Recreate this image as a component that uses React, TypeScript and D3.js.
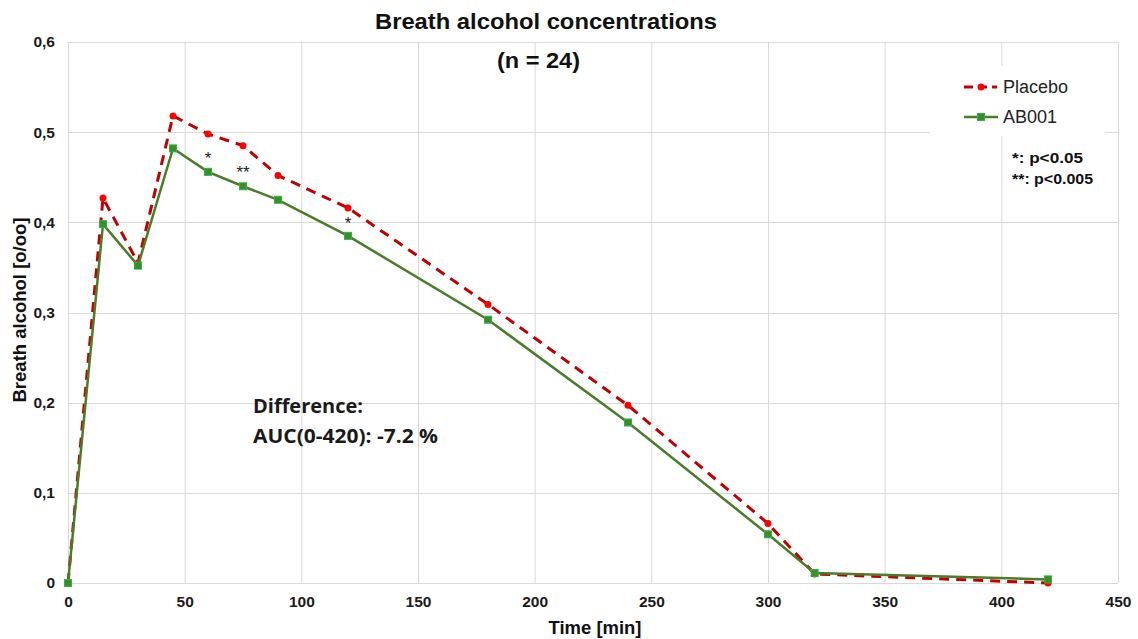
import React, { useEffect, useRef } from "react";
import * as d3 from "d3";

// time points in minutes
const times = [0, 15, 30, 45, 60, 75, 90, 120, 180, 240, 300, 320, 420];
const placebo = [0, 0.427, 0.355, 0.518, 0.498, 0.485, 0.452, 0.416, 0.309, 0.197, 0.066, 0.01, 0.0];
const ab001 = [0, 0.398, 0.352, 0.482, 0.456, 0.44, 0.425, 0.385, 0.292, 0.178, 0.054, 0.011, 0.004];

const xTicks = [0, 50, 100, 150, 200, 250, 300, 350, 400, 450];
const yTicks = [0, 0.1, 0.2, 0.3, 0.4, 0.5, 0.6];

// significance marks: time, value position, label
const stars = [
  { t: 60, v: 0.473, label: "*" },
  { t: 75, v: 0.457, label: "**" },
  { t: 120, v: 0.4, label: "*" },
];

const W = 1138;
const H = 639;
const margin = { top: 42, right: 20, bottom: 56, left: 68 };

const App = () => {
  const svgRef = useRef(null);

  useEffect(() => {
    if (!svgRef.current) return;
    const svg = d3.select(svgRef.current);
    svg.selectAll("*").remove();

    const x = d3.scaleLinear().domain([0, 450]).range([margin.left, W - margin.right]);
    const y = d3.scaleLinear().domain([0, 0.6]).range([H - margin.bottom, margin.top]);
    const font = "'Liberation Sans', Arial, sans-serif";

    // gridlines
    const grid = svg.append("g").attr("stroke", "#d9d9d9").attr("stroke-width", 1);
    xTicks.forEach((t) => {
      grid.append("line")
        .attr("x1", x(t) + 0.5).attr("x2", x(t) + 0.5)
        .attr("y1", y(0)).attr("y2", y(0.6));
    });
    yTicks.forEach((t) => {
      grid.append("line")
        .attr("x1", x(0)).attr("x2", x(450))
        .attr("y1", Math.round(y(t)) + 0.5).attr("y2", Math.round(y(t)) + 0.5);
    });

    // axes
    const xAxis = d3.axisBottom(x).tickValues(xTicks).tickSize(0).tickPadding(13)
      .tickFormat((d) => String(d));
    const gx = svg.append("g").attr("transform", `translate(0,${y(0)})`).call(xAxis);
    gx.select(".domain").remove();
    gx.selectAll("text").attr("font-family", font).attr("font-size", 15.5)
      .attr("font-weight", "bold").attr("fill", "#1a1a1a");

    const yAxis = d3.axisLeft(y).tickValues(yTicks).tickSize(0).tickPadding(13)
      .tickFormat((d) => (d === 0 ? "0" : d3.format(".1f")(d).replace(".", ",")));
    const gy = svg.append("g").attr("transform", `translate(${x(0)},0)`).call(yAxis);
    gy.select(".domain").remove();
    gy.selectAll("text").attr("font-family", font).attr("font-size", 15.5)
      .attr("font-weight", "bold").attr("fill", "#1a1a1a");

    // legend background covers grid
    svg.append("rect").attr("x", 930).attr("y", 66).attr("width", 175).attr("height", 70)
      .attr("fill", "#fff");

    // lines
    const line = d3.line().x((d) => x(d[0])).y((d) => y(d[1]));
    const redData = times.map((t, i) => [t, placebo[i]]);
    const greenData = times.map((t, i) => [t, ab001[i]]);

    svg.append("path").datum(redData).attr("d", line).attr("fill", "none")
      .attr("stroke", "#c00000").attr("stroke-width", 3).attr("stroke-dasharray", "10,7");
    svg.append("g").selectAll("circle").data(redData).enter().append("circle")
      .attr("cx", (d) => x(d[0])).attr("cy", (d) => y(d[1])).attr("r", 3.5)
      .attr("fill", "#ff0000");

    svg.append("path").datum(greenData).attr("d", line).attr("fill", "none")
      .attr("stroke", "#4a7d2a").attr("stroke-width", 2.5);
    svg.append("g").selectAll("rect").data(greenData).enter().append("rect")
      .attr("x", (d) => x(d[0]) - 3.5).attr("y", (d) => y(d[1]) - 3.5)
      .attr("width", 7).attr("height", 7)
      .attr("fill", "#3c8c2c").attr("stroke", "#2db34a").attr("stroke-width", 1);

    // stars
    svg.append("g").selectAll("text").data(stars).enter().append("text")
      .attr("x", (d) => x(d.t)).attr("y", (d) => y(d.v) + 7)
      .attr("text-anchor", "middle").attr("font-family", font).attr("font-size", 17)
      .attr("fill", "#222").text((d) => d.label);

    // legend
    const lg = svg.append("g");
    lg.append("line").attr("x1", 964).attr("x2", 997).attr("y1", 87).attr("y2", 87)
      .attr("stroke", "#c00000").attr("stroke-width", 3).attr("stroke-dasharray", "9,5");
    lg.append("circle").attr("cx", 981).attr("cy", 87).attr("r", 3.5).attr("fill", "#ff0000");
    lg.append("text").attr("x", 1003).attr("y", 93).attr("font-family", font)
      .attr("font-size", 18).attr("fill", "#222").text("Placebo");
    lg.append("line").attr("x1", 964).attr("x2", 998).attr("y1", 117).attr("y2", 117)
      .attr("stroke", "#4a7d2a").attr("stroke-width", 2.5);
    lg.append("rect").attr("x", 977.5).attr("y", 113.5).attr("width", 7).attr("height", 7)
      .attr("fill", "#3c8c2c").attr("stroke", "#2db34a");
    lg.append("text").attr("x", 1003).attr("y", 123).attr("font-family", font)
      .attr("font-size", 18).attr("fill", "#222").text("AB001");

    lg.append("text").attr("x", 1012).attr("y", 163).attr("font-family", font)
      .attr("font-size", 15).attr("font-weight", "bold").attr("fill", "#111")
      .attr("textLength", 71).attr("lengthAdjust", "spacingAndGlyphs")
      .text("*:  p<0.05");
    lg.append("text").attr("x", 1012).attr("y", 184).attr("font-family", font)
      .attr("font-size", 15).attr("font-weight", "bold").attr("fill", "#111")
      .attr("textLength", 81).attr("lengthAdjust", "spacingAndGlyphs")
      .text("**: p<0.005");

    // annotation
    svg.append("text").attr("x", 253).attr("y", 413).attr("font-family", "'Open Sans', sans-serif")
      .attr("font-size", 19).attr("font-weight", "bold").attr("fill", "#1a1a1a")
      .attr("textLength", 110).attr("lengthAdjust", "spacingAndGlyphs")
      .text("Difference:");
    svg.append("text").attr("x", 253).attr("y", 443).attr("font-family", "'Open Sans', sans-serif")
      .attr("font-size", 19).attr("font-weight", "bold").attr("fill", "#1a1a1a")
      .attr("textLength", 185).attr("lengthAdjust", "spacingAndGlyphs")
      .text("AUC(0-420): -7.2 %");

    // titles
    svg.append("text").attr("x", 375).attr("y", 29)
      .attr("font-family", font).attr("font-size", 22).attr("font-weight", "bold")
      .attr("fill", "#111").attr("textLength", 342).attr("lengthAdjust", "spacingAndGlyphs")
      .text("Breath alcohol concentrations");
    svg.append("text").attr("x", 497).attr("y", 68)
      .attr("font-family", font).attr("font-size", 22).attr("font-weight", "bold")
      .attr("fill", "#111").attr("textLength", 83).attr("lengthAdjust", "spacingAndGlyphs")
      .text("(n = 24)");

    svg.append("text").attr("x", 595).attr("y", 634).attr("text-anchor", "middle")
      .attr("font-family", font).attr("font-size", 18).attr("font-weight", "bold")
      .attr("fill", "#111").attr("textLength", 93).attr("lengthAdjust", "spacingAndGlyphs")
      .text("Time [min]");
    svg.append("text").attr("transform", `translate(26,310) rotate(-90)`)
      .attr("text-anchor", "middle").attr("font-family", font).attr("font-size", 19)
      .attr("font-weight", "bold").attr("fill", "#111")
      .attr("textLength", 185).attr("lengthAdjust", "spacingAndGlyphs")
      .text("Breath alcohol [o/oo]");
  }, []);

  return (
    <svg
      ref={svgRef}
      width={W}
      height={H}
      style={{ position: "absolute", left: 0, top: 0, background: "#fff" }}
    ></svg>
  );
};

export default App;
